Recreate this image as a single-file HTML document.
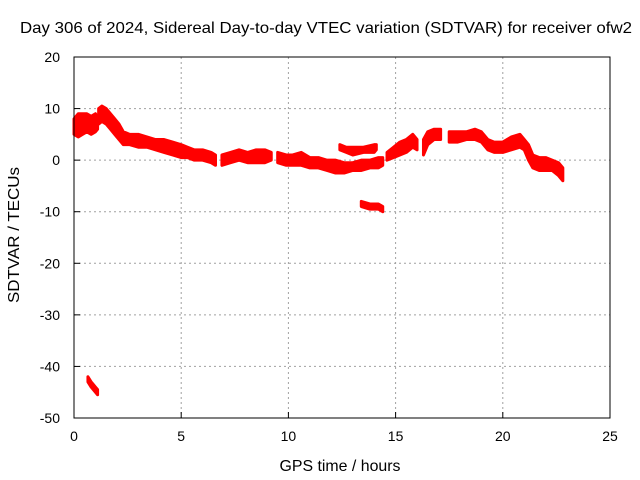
<!DOCTYPE html>
<html><head><meta charset="utf-8"><style>
body{margin:0;background:#fff}
svg{display:block;font-family:"Liberation Sans",sans-serif}
</style></head><body>
<svg id="chart" width="640" height="480">
<text x="326" y="33" font-size="16" text-anchor="middle" textLength="612" lengthAdjust="spacingAndGlyphs">Day 306 of 2024, Sidereal Day-to-day VTEC variation (SDTVAR) for receiver ofw2</text>
<text x="340" y="471" font-size="16" text-anchor="middle" textLength="121" lengthAdjust="spacingAndGlyphs">GPS time / hours</text>
<text transform="translate(19,235) rotate(-90)" font-size="16" text-anchor="middle" textLength="136" lengthAdjust="spacingAndGlyphs">SDTVAR / TECUs</text>
<g id="grid"></g><g id="marks"></g><g id="axes"></g>
</svg>
<script>
const xTicks=[0,5,10,15,20,25];
const yTicks=[20,10,0,-10,-20,-30,-40,-50];
const seg=[0,0,0,0,0,0,0, 1,1,1,1,1,1,1,1,1,1,1,1,1,1,1,1,1,1,1, 2,2,2,2,2,2,2, 3,3,3,3,3,3,3,3,3,3,3,3,3,3, 4,4,4,4,4,4, 5,5,5,5, 6,6,6,6,6,6,6,6,6,6,6,6,6,6,6,6,6,6, 7,7,7,7,7,7, 8,8,8,8, 9,9,9,9];
const t=[0,0.2,0.4,0.6,0.8,1.0,1.1, 1.15,1.3,1.5,1.7,1.9,2.1,2.3,2.6,3.0,3.4,3.8,4.2,4.6,5.0,5.3,5.6,6.0,6.4,6.6, 6.9,7.3,7.7,8.1,8.5,8.9,9.2, 9.5,9.9,10.2,10.6,11.0,11.4,11.8,12.2,12.6,13.0,13.4,13.8,14.2,14.4, 14.6,14.9,15.2,15.5,15.8,16.0, 16.3,16.5,16.8,17.1, 17.5,17.9,18.3,18.7,19.0,19.3,19.6,20.0,20.4,20.8,21.0,21.2,21.4,21.7,22.0,22.3,22.6,22.8, 12.4,12.7,13.0,13.5,14.0,14.1, 13.4,13.8,14.2,14.4, 0.65,0.8,1.0,1.1];
const lo=[5,4.5,5,5.5,5,5.5,6, 7,7.5,7,6,5,4,3,3,2.5,2.5,2,1.5,1,0.5,0.5,0,0,-0.5,-1, -1,-0.5,0,-0.5,-0.5,-0.5,0, -0.5,-1,-1,-1,-1.5,-1.5,-2,-2.5,-2.5,-2,-2,-1.5,-1.5,-1, 0,0.5,1,1.5,2.5,2, 1,3,4,4, 3.5,3.5,4,4,3.5,2,1.5,1.5,2,2.5,2,0,-1.5,-2,-2,-2,-3,-4, 2,1.5,1,1.5,1.5,2, -9,-9.5,-9.5,-10, -43,-44,-45,-45.5];
const hi=[8,9,9,9,8.5,9,8.5, 10,10.5,10,9,8,7,5.5,5,5,4.5,4,4,3.5,3,2.5,2,2,1.5,1, 1,1.5,2,1.5,2,2,1.5, 1.5,1,1,1.5,0.5,0.5,0,0,-0.5,-0.5,0,0,0.5,0.5, 1.5,2.5,3.5,4,5,4, 4,5.5,6,6, 5.5,5.5,5.5,6,5.5,4,3.5,3.5,4.5,5,4,3,1,0.5,0.5,0,-0.5,-1.5, 3,2.5,2.5,2.5,3,3, -8,-8.5,-8.5,-9, -42,-43,-44,-44.5];
const X0=74,X1=610,Y0=418,Y1=57;
const xs=v=>X0+(v-0)/25*(X1-X0);
const ys=v=>Y0-(v+50)/70*(Y0-Y1);
const NS='http://www.w3.org/2000/svg';
function mk(tag,attrs,parent){const e=document.createElementNS(NS,tag);for(const k in attrs)e.setAttribute(k,attrs[k]);parent.appendChild(e);return e;}
const grid=document.getElementById('grid'),axes=document.getElementById('axes'),marks=document.getElementById('marks');
xTicks.forEach(v=>{
  if(v>0&&v<25){const g=mk('line',{x1:xs(v),x2:xs(v),y1:Y1,y2:Y0,stroke:'#a0a0a0','stroke-dasharray':'2,3'},grid);
  
  }
  const l=mk('line',{x1:xs(v),x2:xs(v),y1:Y0,y2:Y0-6,stroke:'#000'},axes);
  
  
  const tx=mk('text',{x:xs(v),y:Y0+23,'font-size':14,'text-anchor':'middle'},axes);tx.textContent=v;
  
  
});
yTicks.forEach(v=>{
  if(v>-50&&v<20){const g=mk('line',{x1:X0,x2:X1,y1:ys(v),y2:ys(v),stroke:'#a0a0a0','stroke-dasharray':'2,3'},grid);
  
  }
  const l=mk('line',{x1:X0,x2:X0+6,y1:ys(v),y2:ys(v),stroke:'#000'},axes);
  
  
  const tx=mk('text',{x:X0-14,y:ys(v)+5,'font-size':14,'text-anchor':'end'},axes);tx.textContent=v;
  
  
});
const fr=mk('rect',{x:X0,y:Y1,width:X1-X0,height:Y0-Y1,fill:'none',stroke:'#000'},axes);


const segIds=[...new Set(seg)];
segIds.forEach(s=>{
  const idx=seg.map((v,i)=>v===s?i:-1).filter(i=>i>=0);
  const top=idx.map(i=>xs(t[i])+','+ys(hi[i]));
  const bot=idx.slice().reverse().map(i=>xs(t[i])+','+ys(lo[i]));
  const p=mk('polygon',{points:top.concat(bot).join(' '),fill:'#ff0000',stroke:'#ff0000','stroke-width':3,'stroke-linejoin':'round'},marks);
  
  
});
</script>
</body></html>
